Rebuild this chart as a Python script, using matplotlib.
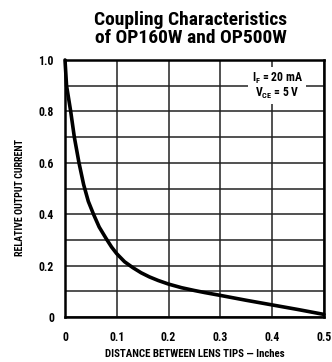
import matplotlib
matplotlib.use("Agg")
import matplotlib.pyplot as plt
import logging
logging.getLogger('matplotlib.font_manager').setLevel(logging.ERROR)

# Data
distance = [0, 0.003, 0.011, 0.018, 0.027, 0.036, 0.045, 0.055, 0.066, 0.0795, 0.09,
            0.1, 0.115, 0.131, 0.147, 0.163, 0.18, 0.2, 0.225, 0.25, 0.27, 0.3,
            0.35, 0.4, 0.45, 0.5]
rel_current = [1.0, 0.9, 0.8, 0.7, 0.6, 0.515, 0.45, 0.4, 0.35, 0.305, 0.272,
               0.246, 0.215, 0.192, 0.172, 0.156, 0.142, 0.128, 0.114, 0.103, 0.095, 0.084,
               0.065, 0.047, 0.029, 0.01]
xticks = [0, 0.1, 0.2, 0.3, 0.4, 0.5]
xtick_labels = ["0", "0.1", "0.2", "0.3", "0.4", "0.5"]
yticks = [0, 0.2, 0.4, 0.6, 0.8, 1.0]
ytick_labels = ["0", "0.2", "0.4", "0.6", "0.8", "1.0"]
title = "Coupling Characteristics\nof OP160W and OP500W"
xlabel = "DISTANCE BETWEEN LENS TIPS — Inches"
ylabel = "RELATIVE OUTPUT CURRENT"

fams = ['Roboto Condensed', 'Liberation Sans Narrow', 'DejaVu Sans']
plt.rcParams['font.family'] = fams
plt.rcParams['mathtext.fontset'] = 'custom'
plt.rcParams['mathtext.rm'] = 'Roboto Condensed:bold'
plt.rcParams['mathtext.it'] = 'Roboto Condensed:bold'
plt.rcParams['mathtext.bf'] = 'Roboto Condensed:bold'

fig = plt.figure(figsize=(3.32, 3.62), dpi=100)
ax = fig.add_axes([65/332, (362-317)/362, (324-65)/332, (317-60)/362])

ax.plot(distance, rel_current, color='black', lw=2.6, solid_capstyle='round',
        solid_joinstyle='round', zorder=3, clip_on=False)

ax.set_xlim(0, 0.5)
ax.set_ylim(0, 1.0)
ax.set_xticks(xticks)
ax.set_xticklabels(xtick_labels, fontsize=8.5, fontweight='bold')
ax.set_yticks(yticks)
ax.set_yticklabels(ytick_labels, fontsize=8.5, fontweight='bold')
ax.set_yticks([i/10 for i in range(11)], minor=True)
ax.tick_params(axis='x', which='both', length=0, pad=10)
ax.tick_params(axis='y', which='both', length=0, pad=8)
ax.grid(True, which='both', color='#222222', lw=1.1)
for s in ax.spines.values():
    s.set_linewidth(1.8)
    s.set_color('black')

fig.text(0.575, 1-29/362, title, ha='center', va='center', fontsize=14,
         fontweight='bold', linespacing=1.05)
ax.set_xlabel(xlabel, fontsize=7.8, fontweight='bold', labelpad=5)
ax.xaxis.set_label_coords(0.5, -0.125)
ax.set_ylabel(ylabel, fontsize=7.2, fontweight='bold')
ax.yaxis.set_label_coords(-0.155, 0.465)

ax.text(0.41, 0.9, "$\\mathregular{I_F}$ = 20 mA\n$\\mathregular{V_{CE}}$ = 5 V",
        ha='center', va='center', fontsize=8.5, fontweight='bold', linespacing=1.0,
        bbox=dict(facecolor='white', edgecolor='none', pad=2.5), zorder=4)

fig.savefig("out.png", dpi=100)
